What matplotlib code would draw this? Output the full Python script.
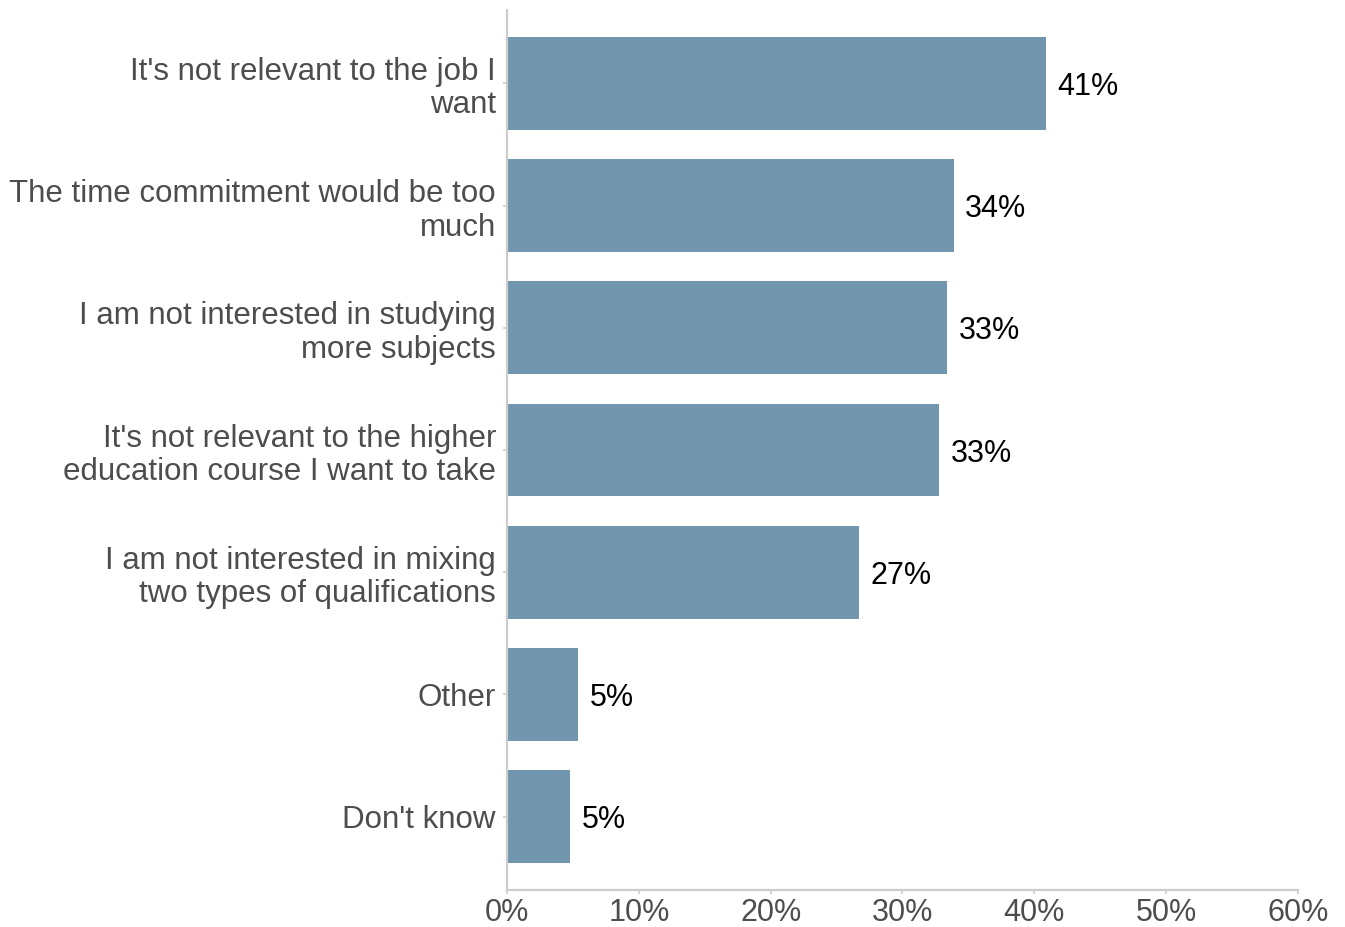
import matplotlib.pyplot as plt

plt.rcParams['font.family'] = ['Liberation Sans', 'DejaVu Sans']

reasons = [
    "It's not relevant to the job I\nwant",
    "The time commitment would be too\nmuch",
    "I am not interested in studying\nmore subjects",
    "It's not relevant to the higher\neducation course I want to take",
    "I am not interested in mixing\ntwo types of qualifications",
    "Other",
    "Don't know",
]
shares = [40.9, 33.9, 33.4, 32.8, 26.7, 5.4, 4.8]
x_ticks = [0, 10, 20, 30, 40, 50, 60]

bar_colour = '#7196ae'
axis_grey = '#cccccc'
text_grey = '#4d4d4d'


def main():
    fig = plt.figure(figsize=(13.45, 9.27), dpi=100)
    ax = fig.add_axes([0.377, 0.0399, 0.588, 0.9493])

    pos = list(range(len(reasons)))
    ax.barh(pos, shares, height=0.76, color=bar_colour)
    for p, v in zip(pos, shares):
        ax.annotate(f'{round(v)}%', (v, p), xytext=(8, 0), textcoords='offset points',
                    va='center_baseline', ha='left', fontsize=22, color='black')

    ax.set_ylim(len(reasons) - 0.4, -0.6)
    ax.set_xlim(0, 60)
    ax.set_yticks(pos)
    ax.set_yticklabels(reasons, fontsize=22.5, color=text_grey, linespacing=1.15)
    ax.set_xticks(x_ticks)
    ax.set_xticklabels([f'{t}%' for t in x_ticks], fontsize=22, color=text_grey)

    for side in ['top', 'right']:
        ax.spines[side].set_visible(False)
    for side in ['left', 'bottom']:
        ax.spines[side].set_color(axis_grey)
        ax.spines[side].set_linewidth(1.6)
    ax.tick_params(axis='both', length=3, width=1.2, color=axis_grey)
    ax.tick_params(axis='y', pad=5)
    ax.tick_params(axis='x', pad=3)

    fig.savefig('out.png', dpi=100)


if __name__ == '__main__':
    main()
